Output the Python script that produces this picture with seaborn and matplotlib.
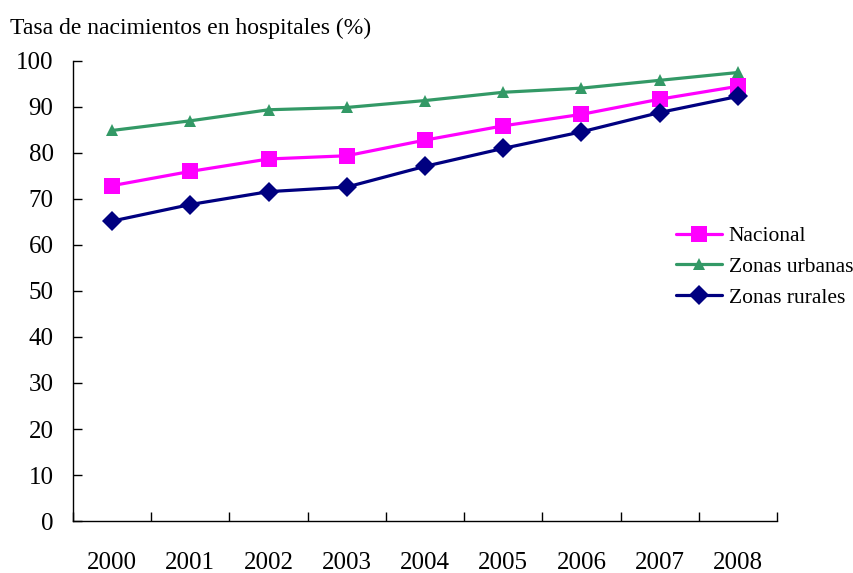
import pandas as pd
import matplotlib
matplotlib.use('Agg')
import matplotlib.pyplot as plt
import seaborn as sns
from matplotlib.ticker import FixedLocator

# Data
years = ['2000', '2001', '2002', '2003', '2004', '2005', '2006', '2007', '2008']
nacional = [72.9, 76.0, 78.7, 79.4, 82.8, 85.9, 88.4, 91.7, 94.5]
urbanas = [84.9, 87.0, 89.4, 89.9, 91.4, 93.2, 94.1, 95.8, 97.5]
rurales = [65.2, 68.8, 71.6, 72.6, 77.1, 81.0, 84.6, 88.8, 92.3]
series_names = ['Nacional', 'Zonas urbanas', 'Zonas rurales']

rows = []
for name, vals in zip(series_names, [nacional, urbanas, rurales]):
    for i, v in enumerate(vals):
        rows.append({'idx': i, 'value': v, 'serie': name})
df = pd.DataFrame(rows)

sns.set_style('white', {'xtick.bottom': True, 'ytick.left': True,
                        'text.color': 'black', 'xtick.color': 'black', 'ytick.color': 'black',
                        'axes.labelcolor': 'black', 'axes.edgecolor': 'black'})
plt.rcParams['font.family'] = ['Liberation Serif', 'DejaVu Serif']

fig = plt.figure(figsize=(8.54, 5.73), dpi=100)
ax = fig.add_axes([73 / 854, 1 - 521 / 573, (777 - 73) / 854, (521 - 61) / 573])

palette = {'Nacional': '#FF00FF', 'Zonas urbanas': '#339966', 'Zonas rurales': '#000080'}
markers = {'Nacional': 's', 'Zonas urbanas': '^', 'Zonas rurales': 'D'}
sizes = {'Nacional': 11, 'Zonas urbanas': 8, 'Zonas rurales': 10}

for name in series_names:
    sub = df[df['serie'] == name]
    sns.lineplot(data=sub, x='idx', y='value', ax=ax, color=palette[name],
                 marker=markers[name], markersize=sizes[name], markeredgewidth=0,
                 linewidth=2.3, label=name)

ax.set_xlim(-0.5, len(years) - 0.5)
ax.set_ylim(0, 100)
ax.set_yticks(range(0, 101, 10))
ax.set_xticks(range(len(years)))
ax.set_xticklabels(years)
ax.xaxis.set_minor_locator(FixedLocator([i + 0.5 for i in range(-1, len(years))]))
ax.tick_params(axis='x', which='major', length=0, pad=22, labelsize=18, labelcolor='black')
ax.tick_params(axis='x', which='minor', bottom=True, direction='in', length=6.5, width=1, color='black')
ax.tick_params(axis='y', which='major', left=True, direction='in', length=6.5, width=1,
               color='black', labelsize=18, pad=14, labelcolor='black')
ax.set_xlabel('')
ax.set_ylabel('')

for s in ['top', 'right']:
    ax.spines[s].set_visible(False)
for s in ['left', 'bottom']:
    ax.spines[s].set_color('black')
    ax.spines[s].set_linewidth(1)

leg = ax.legend(loc='upper left', bbox_to_anchor=(676 / 854, 1 - 226 / 573), bbox_transform=fig.transFigure,
                frameon=False, fontsize=15.5, handlelength=2.15, labelspacing=0.5, handletextpad=0.3,
                borderpad=0, borderaxespad=0)
for t in leg.get_texts():
    t.set_color('black')

fig.text(10 / 854, 1 - 28 / 573, 'Tasa de nacimientos en hospitales (%)', fontsize=17,
         va='center', ha='left', color='black')

fig.savefig('out.png', dpi=100)
